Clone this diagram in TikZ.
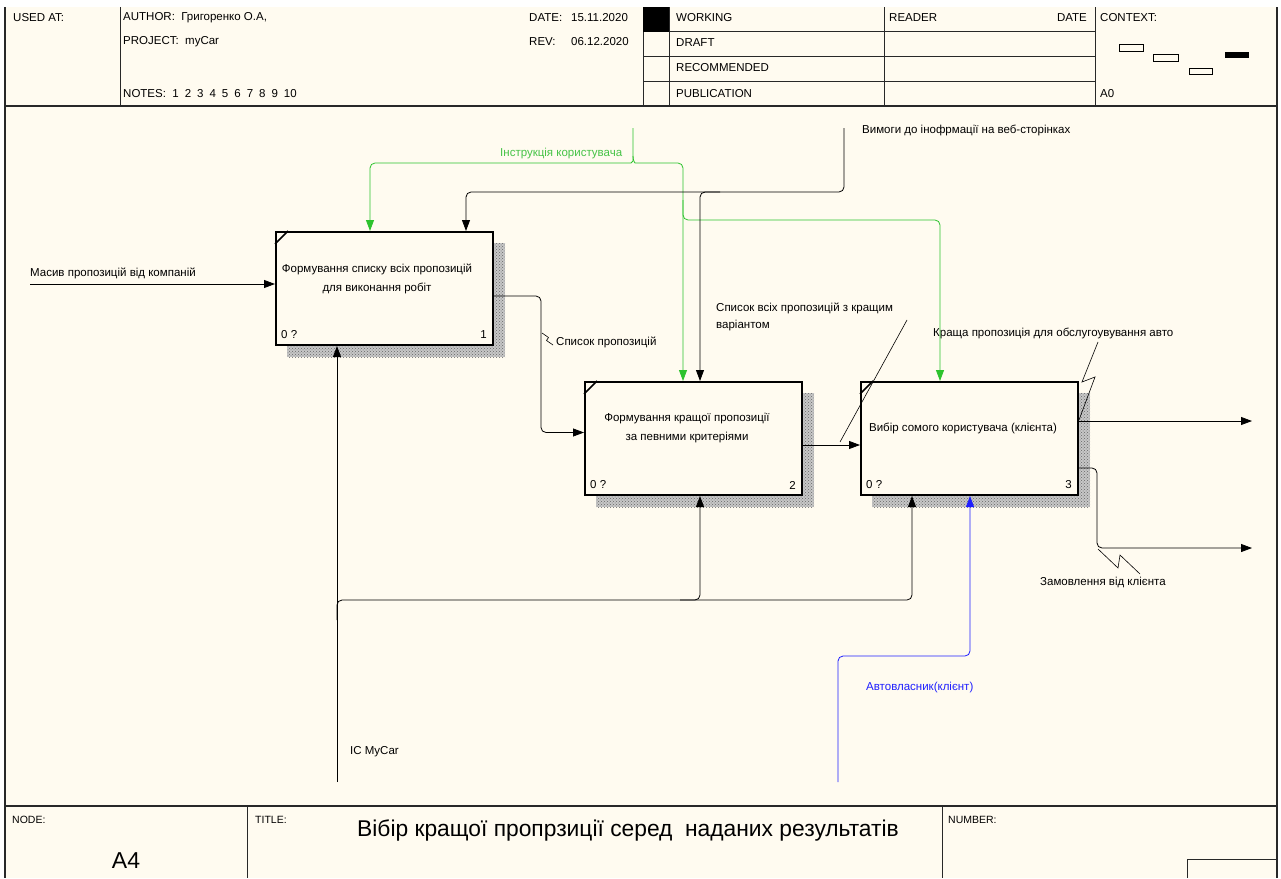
\documentclass[tikz,border=0pt]{standalone}
\usepackage{fontspec}
\setmainfont{Liberation Sans}
\usetikzlibrary{arrows.meta,calc,patterns}
\definecolor{paper}{RGB}{255,251,240}
\definecolor{ctlgreen}{RGB}{45,195,45}
\definecolor{labgreen}{RGB}{70,195,70}
\definecolor{mechblue}{RGB}{30,30,255}
\definecolor{rule}{RGB}{40,40,40}
\newcommand{\notegap}{\hspace{6pt}}

\begin{document}
\begin{tikzpicture}[x=1pt,y=-1pt,
  every node/.style={font=\fontsize{11.5}{13}\selectfont, inner sep=0pt, anchor=west},
  frameline/.style={line width=1.3pt, draw=rule},
  thinrule/.style={line width=1pt, draw=rule},
  actbox/.style={draw, line width=2pt, fill=paper, minimum width=217pt, minimum height=113pt, anchor=center},
  shadowfill/.style={fill=black!22, postaction={pattern=crosshatch dots, pattern color=black!60}},
  boxtext/.style={anchor=center, align=center, font=\fontsize{11.5}{18.5}\selectfont},
  arr/.style={-{Triangle[length=11pt,width=8pt]}, line width=0.8pt},
  garr/.style={arr, draw=ctlgreen, -{Triangle[length=11pt,width=8pt,fill=ctlgreen]}},
  barr/.style={arr, draw=mechblue, -{Triangle[length=11pt,width=8pt,fill=mechblue]}},
  rc/.style={rounded corners=5pt},
  leader/.style={line width=0.6pt}
]
\useasboundingbox (0,0) rectangle (1281,878);
\fill[white] (0,0) rectangle (1281,878);
\fill[paper] (5,7) rectangle (1277,878);

% ---- outer frame, header and footer rules
\draw[frameline] (5,7) -- (5,878);
\draw[frameline] (1277,7) -- (1277,878);
\draw[frameline] (5,106) -- (1277,106);
\draw[frameline] (5,806) -- (1277,806);
\draw[thinrule] (120,7) -- (120,106);
\draw[thinrule] (643,7) -- (643,106);
\draw[thinrule] (669,7) -- (669,106);
\draw[thinrule] (884,7) -- (884,106);
\draw[thinrule] (1095,7) -- (1095,106);
\draw[thinrule] (643,31.5) -- (1095,31.5);
\draw[thinrule] (643,56.5) -- (1095,56.5);
\draw[thinrule] (643,81.5) -- (1095,81.5);
\fill[black] (643,7) rectangle (669,31.5);
\draw[thinrule] (247,806) -- (247,878);
\draw[thinrule] (942,806) -- (942,878);
\draw[thinrule] (1187,878) |- (1277,859);

% context thumbnails
\draw[line width=0.8pt] (1119,44) rectangle (1143,51);
\draw[line width=0.8pt] (1153,54) rectangle (1178,61);
\draw[line width=0.8pt] (1189,68) rectangle (1212,74);
\fill[black] (1225,52) rectangle (1249,58);

% ---- header texts
\node (usedat) at (13,18) {USED AT:};
\node (author) at (123,18) {AUTHOR:\ \ Григоренко О.А,};
\node (project) at (123,42) {PROJECT:\ \ myCar};
\node (notes) at (123,94) {NOTES:\ \ 1\notegap2\notegap3\notegap4\notegap5\notegap6\notegap7\notegap8\notegap9\notegap10};
\node (datek) at (529,18) {DATE:};
\node (datev) at (571,18) {15.11.2020};
\node (revk) at (529,42) {REV:};
\node (revv) at (571,42) {06.12.2020};
\node (working) at (676,18) {WORKING};
\node (draft) at (676,43) {DRAFT};
\node (recom) at (676,68) {RECOMMENDED};
\node (publ) at (676,94) {PUBLICATION};
\node (reader) at (889,18) {READER};
\node[anchor=east] (rdate) at (1087,18) {DATE};
\node (context) at (1100,18) {CONTEXT:};
\node (azero) at (1100,94) {A0};

% ---- footer texts
\node[font=\fontsize{10.5}{12}\selectfont] (nodek) at (12,820) {NODE:};
\node[anchor=center, font=\fontsize{23}{26}\selectfont] (nodev) at (126,861) {A4};
\node[font=\fontsize{10.5}{12}\selectfont] (titlek) at (255,820) {TITLE:};
\node[anchor=center, font=\fontsize{22.8}{26}\selectfont] (titlev) at (628,830) {Вібір кращої пропрзиції серед\ \ наданих результатів};
\node[font=\fontsize{10.5}{12}\selectfont] (numberk) at (948,820) {NUMBER:};

% ---- shadows
\fill[shadowfill] (287,243) rectangle (505,357);
\fill[shadowfill] (596,393) rectangle (814,507);
\fill[shadowfill] (872,393) rectangle (1090,507);

% ---- activity boxes
\node[actbox] (b1) at (384.5,288.5) {};
\node[actbox] (b2) at (693.5,438.5) {};
\node[actbox] (b3) at (969.5,438.5) {};
\foreach \b in {b1,b2,b3}{
  \draw[line width=1.5pt] ($(\b.north west)+(0,13)$) -- ($(\b.north west)+(13,0)$);
  \node at ($(\b.south west)+(6,-11)$) {0 ?};
}
\node[anchor=east] (n1) at ($(b1.south east)+(-7,-11)$) {1};
\node[anchor=east] (n2) at ($(b2.south east)+(-7,-11)$) {2};
\node[anchor=east] (n3) at ($(b3.south east)+(-7,-11)$) {3};

\node[boxtext] (t1) at (377,279) {Формування списку всіх пропозицій\\для виконання робіт};
\node[boxtext] (t2) at (687,428) {Формування кращої пропозиції\\за певними критеріями};
\node[boxtext] (t3) at (963,428) {Вибір сомого користувача (клієнта)};

% ---- free ends of the arrows
\coordinate (i1) at (30,284);
\coordinate (gsrc) at (633,128);
\coordinate (vsrc) at (844,128);
\coordinate (mc1) at (337,782);
\coordinate (mc2) at (838,782);
\coordinate (o1) at (1252,421);
\coordinate (o2) at (1252,548);

% ---- input
\draw[arr] (i1) -- (i1 -| b1.west);
\node (lin) at (30,273) {Масив пропозицій від компаній};

% ---- box to box
\draw[arr, rc] ([yshift=-7.5pt]b1.east) -- (541,296) |- ([yshift=6pt]b2.west);
\draw[leader] (542,333) -- (548.5,337.5) -- (546.5,340.5) -- (553,345);
\node (l12) at (556,342) {Список пропозицій};

\draw[arr] ([yshift=-6.5pt]b2.east) -- ([yshift=-6.5pt]b3.west);
\coordinate (l23a) at (907,320);
\coordinate (l23b) at (840,442);
\draw[leader] (l23a) -- (l23b);
\node[anchor=north west, align=left, font=\fontsize{11.5}{17}\selectfont] (l23) at (716,303) {Список всіх пропозицій з кращим\\варіантом};

% ---- outputs
\draw[arr] (b3.east |- o1) -- (o1);
\draw[leader] (1098,342) -- (1082,382) -- (1095,377) -- (1079,420);
\node (lo1) at (933,333) {Краща пропозиція для обслугоувування авто};

\draw[arr, rc] ([yshift=-29.5pt]b3.east) -- (1097,468) |- (o2);
\draw[leader] (1098,549) -- (1118,568) -- (1120,555) -- (1140,574);
\node (lo2) at (1040,582) {Замовлення від клієнта};

% ---- controls
\draw[garr, rc] (gsrc) -- (633,156) .. controls (633,161) and (631,163) .. (626,163) -| ([xshift=-14.5pt]b1.north);
\draw[garr, rc] (633,156) .. controls (633,161) and (635,163) .. (640,163) -| ([xshift=-10.5pt]b2.north);
\draw[garr, rc] (683,200) |- (800,220) -| ([xshift=-29.5pt]b3.north);
\node[text=labgreen] (lc1) at (500,154) {Інструкція користувача};

\draw[arr, rc] (vsrc) |- (600,192) -| ([xshift=81.5pt]b1.north);
\draw[arr, rc] (720,192) -| ([xshift=6.5pt]b2.north);
\node (lc2) at (862,130) {Вимоги до інофрмації на веб-сторінках};

% ---- mechanisms
\draw[arr] (mc1) -- (mc1 |- b1.south);
\draw[arr, rc] (337,620) |- (500,600) -| ([xshift=6.5pt]b2.south);
\draw[arr, rc] (680,600) -| ([xshift=-57.5pt]b3.south);
\node (lm1) at (350,752) {ІС MyCar};

\draw[barr, rc] (mc2) |- (900,656) -| ([xshift=0.5pt]b3.south);
\node[text=mechblue] (lm2) at (866,688) {Автовласник(клієнт)};
\end{tikzpicture}
\end{document}
